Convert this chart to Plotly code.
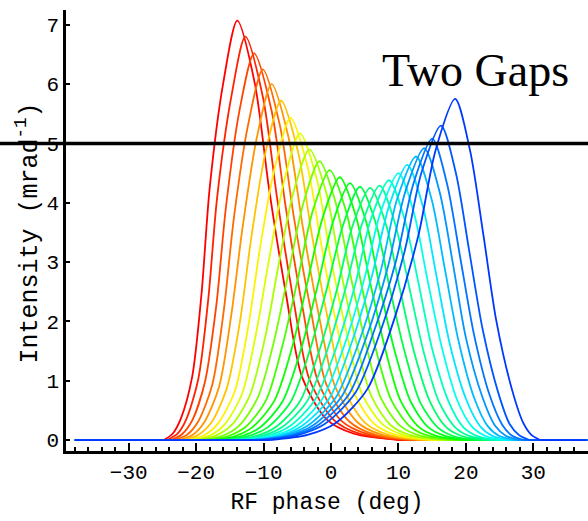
import plotly.graph_objects as go

# ---------------- data ----------------
# peak phase (deg) and peak intensity of each of the 24 curves (red -> blue)
peak_phase = [-13.9, -12.7, -11.4, -10.1, -8.8, -7.4, -6.0, -4.6, -3.2, -1.7, -0.2, 1.3,
              2.8, 4.3, 5.8, 7.2, 8.6, 10.0, 11.3, 12.6, 13.8, 15.0, 16.3, 18.4]
peak_height = [7.07, 6.80, 6.52, 6.25, 6.00, 5.72, 5.43, 5.17, 4.90, 4.70, 4.55, 4.43,
               4.33, 4.27, 4.25, 4.29, 4.38, 4.50, 4.64, 4.78, 4.92, 5.08, 5.30, 5.75]
# fraction of the peak height at which the crossing phases below are read
level_frac = [0.0, 0.015, 0.05, 0.15, 0.35, 0.6, 0.85]
# phase where each curve crosses those levels on its rising (left) side
left_x = [
    [-24.8, -23.5, -22.3, -20.6, -19.2, -18.0, -16.0],
    [-24.3, -22.8, -21.5, -19.7, -18.2, -16.9, -14.8],
    [-23.7, -22.1, -20.6, -18.7, -17.0, -15.6, -13.6],
    [-23.2, -21.3, -19.7, -17.6, -15.9, -14.4, -12.3],
    [-22.6, -20.5, -18.8, -16.6, -14.8, -13.1, -11.0],
    [-21.9, -19.7, -17.8, -15.5, -13.5, -11.8, -9.7],
    [-21.2, -18.8, -16.8, -14.3, -12.3, -10.5, -8.3],
    [-20.5, -17.9, -15.8, -13.2, -11.1, -9.1, -6.9],
    [-19.8, -17.1, -14.8, -12.1, -9.8, -7.8, -5.6],
    [-19.1, -16.1, -13.7, -10.9, -8.5, -6.3, -4.1],
    [-18.3, -15.2, -12.6, -9.6, -7.2, -4.9, -2.7],
    [-17.5, -14.2, -11.6, -8.4, -5.8, -3.5, -1.2],
    [-16.7, -13.2, -10.5, -7.2, -4.5, -2.0, 0.3],
    [-15.9, -12.3, -9.4, -6.0, -3.2, -0.6, 1.8],
    [-15.1, -11.3, -8.3, -4.7, -1.8, 0.9, 3.2],
    [-14.5, -10.4, -7.3, -3.6, -0.6, 2.2, 4.6],
    [-13.8, -9.6, -6.3, -2.5, 0.7, 3.6, 5.9],
    [-13.1, -8.7, -5.3, -1.4, 1.9, 4.9, 7.3],
    [-12.5, -7.9, -4.4, -0.3, 3.0, 6.1, 8.6],
    [-11.9, -7.2, -3.5, 0.7, 4.2, 7.4, 9.8],
    [-11.5, -6.5, -2.7, 1.6, 5.2, 8.5, 11.0],
    [-11.0, -5.8, -1.9, 2.6, 6.2, 9.7, 12.2],
    [-10.4, -5.1, -1.0, 3.6, 7.4, 10.9, 13.4],
    [-9.0, -3.5, 0.7, 5.4, 9.3, 12.95, 15.5],
]
# phase where each curve crosses the same levels on its falling (right) side
right_x = [
    [10.1, 3.4, -0.7, -4.3, -6.7, -9.2, -11.3],
    [10.8, 4.3, 0.4, -3.2, -5.6, -8.0, -10.1],
    [11.6, 5.4, 1.5, -1.9, -4.3, -6.7, -8.8],
    [12.4, 6.4, 2.7, -0.7, -3.0, -5.5, -7.6],
    [13.2, 7.5, 3.9, 0.6, -1.8, -4.2, -6.3],
    [14.1, 8.6, 5.1, 1.9, -0.4, -2.8, -4.9],
    [15.0, 9.7, 6.4, 3.3, 0.9, -1.4, -3.5],
    [15.9, 10.9, 7.7, 4.6, 2.3, -0.1, -2.1],
    [16.8, 12.0, 8.9, 6.0, 3.6, 1.3, -0.7],
    [17.8, 13.3, 10.3, 7.4, 5.1, 2.8, 0.7],
    [18.8, 14.5, 11.7, 8.9, 6.5, 4.3, 2.2],
    [19.9, 15.7, 13.0, 10.3, 8.0, 5.8, 3.7],
    [20.9, 17.0, 14.4, 11.8, 9.4, 7.2, 5.2],
    [21.9, 18.2, 15.8, 13.2, 10.9, 8.7, 6.7],
    [22.9, 19.5, 17.1, 14.7, 12.3, 10.2, 8.2],
    [23.8, 20.6, 18.4, 16.0, 13.7, 11.6, 9.5],
    [24.7, 21.7, 19.6, 17.4, 15.0, 13.0, 10.9],
    [25.6, 22.9, 20.9, 18.7, 16.4, 14.3, 12.3],
    [26.4, 23.9, 22.1, 20.0, 17.6, 15.6, 13.6],
    [27.2, 24.9, 23.2, 21.2, 18.9, 16.9, 14.9],
    [27.9, 25.9, 24.3, 22.4, 20.0, 18.1, 16.1],
    [28.6, 26.8, 25.4, 23.5, 21.2, 19.2, 17.2],
    [29.4, 27.9, 26.5, 24.8, 22.5, 20.5, 18.5],
    [31.0, 29.7, 28.5, 26.8, 24.5, 22.6, 20.6],
]
baseline_range = [-38.0, 38.0]
reference_level = 5.0
x_ticks = [-30, -20, -10, 0, 10, 20, 30]
y_ticks = [0, 1, 2, 3, 4, 5, 6, 7]

# ---------------- styles ----------------
colors = ["#ff0000", "#ff2200", "#ff4400", "#ff6a00", "#ff9500", "#ffc400", "#fff200", "#ddff00",
          "#aaff00", "#77ff00", "#44ff00", "#11ff00", "#00ff1a", "#00ff44", "#00ff6e", "#00ff99",
          "#00ffc4", "#00ffee", "#00e6ff", "#00bbff", "#0095ff", "#0073ff", "#0055ff", "#0037ff"]
mono = "Liberation Mono, Courier New, monospace"

fig = go.Figure()
for i in range(len(peak_phase)):
    h = peak_height[i]
    # flat zero baseline on either side of the hump
    fig.add_trace(go.Scatter(x=[baseline_range[0], left_x[i][0], None, right_x[i][0], baseline_range[1]],
                             y=[0.0, 0.0, None, 0.0, 0.0], mode="lines",
                             line=dict(color=colors[i], width=1.8),
                             showlegend=False, hoverinfo="skip"))
    xs = left_x[i] + [peak_phase[i]] + right_x[i][::-1]
    ys = [f * h for f in level_frac] + [h] + [f * h for f in level_frac[::-1]]
    fig.add_trace(go.Scatter(x=xs, y=ys, mode="lines",
                             line=dict(color=colors[i], width=1.8, shape="spline", smoothing=0.8),
                             showlegend=False, hoverinfo="skip"))

fig.add_shape(type="line", xref="paper", yref="y", x0=-0.2, x1=1.0,
              y0=reference_level, y1=reference_level,
              line=dict(color="black", width=3.5), layer="above")

fig.add_annotation(text="Two Gaps", xref="paper", yref="paper", x=0.601, y=0.862,
                   xanchor="left", yanchor="middle", showarrow=False,
                   font=dict(family="Liberation Serif, Times New Roman, serif", size=46, color="black"))

# y-axis title placed as a rotated annotation so it can be centred like the reference
fig.add_annotation(text="Intensity (mrad<sup>-1</sup>)", xref="paper", yref="paper",
                   x=-0.073, y=0.495, xanchor="center", yanchor="middle", textangle=-90,
                   showarrow=False, font=dict(family=mono, size=25, color="black"))

fig.update_layout(
    width=588, height=521,
    margin=dict(l=66, r=0, t=10, b=70),
    paper_bgcolor="white", plot_bgcolor="white",
    font=dict(family=mono, size=21, color="black"),
    xaxis=dict(range=[-39.3, 38.1], tickvals=x_ticks, ticks="inside", ticklen=8,
               tickwidth=2, tickcolor="black", showgrid=False, zeroline=False,
               showline=True, linecolor="black", linewidth=2.5,
               minor=dict(ticks="inside", ticklen=4, tickwidth=1.5, dtick=2, tickcolor="black", showgrid=False),
               title=dict(text="RF phase (deg)", standoff=9, font=dict(family=mono, size=23)),
               tickfont=dict(family=mono, size=21)),
    yaxis=dict(range=[-0.185, 7.25], tickvals=y_ticks, ticks="inside", ticklen=4,
               tickwidth=2, tickcolor="black", showgrid=False, zeroline=False,
               showline=True, linecolor="black", linewidth=2.5,
               tickfont=dict(family=mono, size=21)),
)

fig.write_html("out.html")
